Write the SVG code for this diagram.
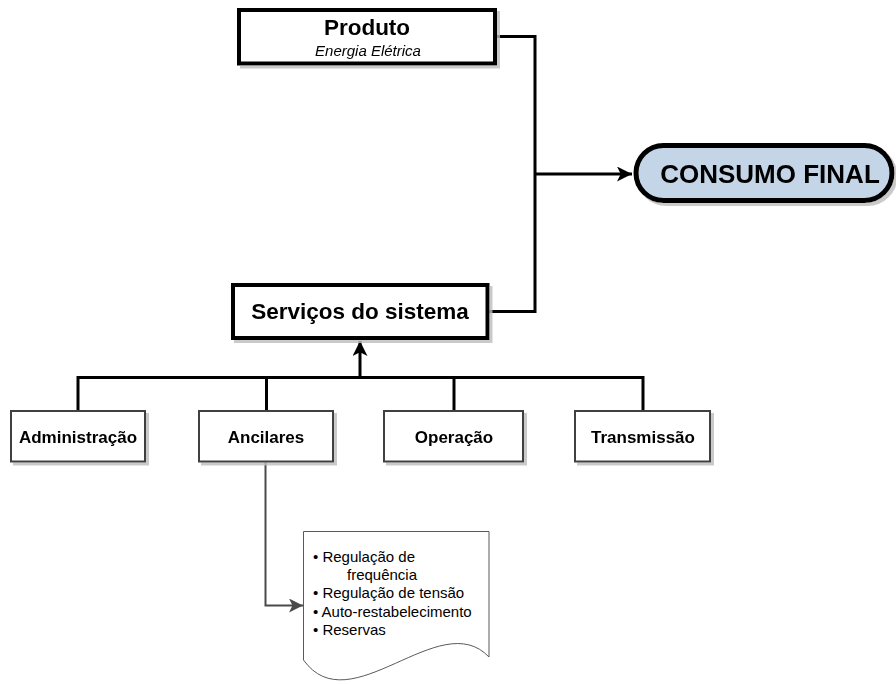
<svg xmlns="http://www.w3.org/2000/svg" width="896" height="684" viewBox="0 0 896 684">
  <defs>
    <filter id="shadow" x="-10%" y="-10%" width="130%" height="140%">
      <feDropShadow dx="3" dy="3" stdDeviation="0.6" flood-color="#bdbdbd" flood-opacity="0.8"/>
    </filter>
    <marker id="arrowBlack" viewBox="0 0 10 10" refX="10" refY="5" markerWidth="5" markerHeight="5" markerUnits="strokeWidth" orient="auto">
      <path d="M0,0 L10,5 L0,10 L2.5,5 Z" fill="#000"/>
    </marker>
    <marker id="arrowGray" viewBox="0 0 10 10" refX="10" refY="5" markerWidth="7" markerHeight="7" markerUnits="strokeWidth" orient="auto">
      <path d="M0,0 L10,5 L0,10 L2.5,5 Z" fill="#4a4a4a"/>
    </marker>
  </defs>
  <style>
    text { font-family: "Liberation Sans", Arial, sans-serif; fill: #000; }
    .main { fill: #fff; stroke: #000; stroke-width: 4; }
    .child { fill: #fff; stroke: #404040; stroke-width: 2; }
    .lbl { font-weight: bold; font-size: 17px; text-anchor: middle; }
    .big { font-weight: bold; font-size: 22.5px; text-anchor: middle; }
    .wire { fill: none; stroke: #000; stroke-width: 3; }
    .note { font-size: 15px; }
  </style>

  <rect width="896" height="684" fill="#fff"/>

  <!-- connectors -->
  <g id="connectors">
    <polyline class="wire" points="495,36.5 535,36.5 535,311.5 487,311.5"/>
    <line class="wire" x1="535" y1="174" x2="632" y2="174" marker-end="url(#arrowBlack)"/>
    <polyline class="wire" points="78,410 78,377.5 643,377.5 643,410"/>
    <line class="wire" x1="266.5" y1="377.5" x2="266.5" y2="410"/>
    <line class="wire" x1="454" y1="377.5" x2="454" y2="410"/>
    <line class="wire" x1="360" y1="377.5" x2="360" y2="341" marker-end="url(#arrowBlack)"/>
    <polyline fill="none" stroke="#4a4a4a" stroke-width="2" points="265.5,462 265.5,605.5 303,605.5" marker-end="url(#arrowGray)"/>
  </g>

  <!-- product node -->
  <g id="produto" filter="url(#shadow)">
    <rect class="main" x="239" y="10" width="256" height="53.5"/>
    <text class="big" x="367" y="35">Produto</text>
    <text x="368" y="55.5" font-size="15" font-style="italic" text-anchor="middle">Energia Elétrica</text>
  </g>

  <!-- final consumption node -->
  <g id="consumo-final" filter="url(#shadow)">
    <rect x="636" y="145.5" width="256" height="55" rx="27.5" fill="#c3d5e7" stroke="#000" stroke-width="5"/>
    <text x="770" y="183" font-size="26" font-weight="bold" text-anchor="middle">CONSUMO FINAL</text>
  </g>

  <!-- system services node -->
  <g id="servicos" filter="url(#shadow)">
    <rect class="main" x="233" y="285" width="254.5" height="53"/>
    <text class="big" x="360" y="318.5">Serviços do sistema</text>
  </g>

  <!-- service categories -->
  <g id="administracao" filter="url(#shadow)">
    <rect class="child" x="11" y="411" width="134" height="50.5"/>
    <text class="lbl" x="78" y="442.5">Administração</text>
  </g>
  <g id="ancilares" filter="url(#shadow)">
    <rect class="child" x="199" y="411" width="134" height="50.5"/>
    <text class="lbl" x="266" y="442.5">Ancilares</text>
  </g>
  <g id="operacao" filter="url(#shadow)">
    <rect class="child" x="384" y="411" width="139" height="50.5"/>
    <text class="lbl" x="454" y="442.5">Operação</text>
  </g>
  <g id="transmissao" filter="url(#shadow)">
    <rect class="child" x="575" y="411" width="135" height="50.5"/>
    <text class="lbl" x="643" y="442.5">Transmissão</text>
  </g>

  <!-- ancillary services list (document shape) -->
  <g id="lista-ancilares">
    <path d="M303.5,531.5 H489 V657 C440,605 350,725 303.5,660 Z" fill="#fff" stroke="#5a5a5a" stroke-width="1"/>
    <text class="note" x="313" y="562">• Regulação de</text>
    <text class="note" x="347" y="580">frequência</text>
    <text class="note" x="313" y="598">• Regulação de tensão</text>
    <text class="note" x="313" y="616.5">• Auto-restabelecimento</text>
    <text class="note" x="313" y="635">• Reservas</text>
  </g>
</svg>
